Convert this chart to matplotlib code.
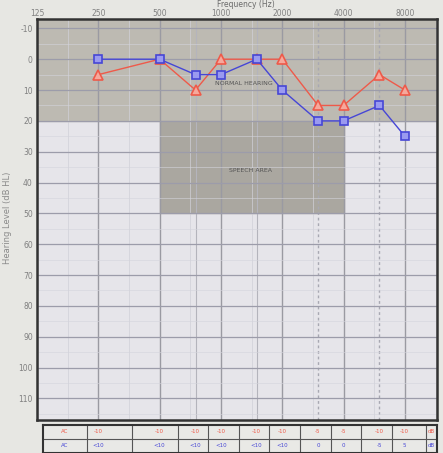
import matplotlib
matplotlib.use("Agg")
import matplotlib.pyplot as plt
import numpy as np

# audiogram thresholds (dB HL)
freqs = [250, 500, 750, 1000, 1500, 2000, 3000, 4000, 6000, 8000]
right_ear = [5, 0, 10, 0, 0, 0, 15, 15, 5, 10]
left_ear = [0, 0, 5, 5, 0, 10, 20, 20, 15, 25]

octave_ticks = [125, 250, 500, 1000, 2000, 4000, 8000]
db_ticks = [-10, 0, 10, 20, 30, 40, 50, 60, 70, 80, 90, 100, 110]

# table rows under the chart
row_labels = ["AC", "AC"]
right_row = ["-10", "-10", "-10", "-10", "-10", "-10", "-5", "-5", "-10", "-10"]
left_row = ["<10", "<10", "<10", "<10", "<10", "<10", "0", "0", "-5", "5"]

red = "#ee5a4a"
blue = "#4646d6"
bg = "#e7e7e3"

fig = plt.figure(figsize=(4.43, 4.53), dpi=100)
fig.patch.set_facecolor(bg)

ax = fig.add_axes([0.0835, 0.0728, 0.903, 0.885])
ax.set_xscale("log", base=2)
ax.set_xlim(125, 11500)
ax.set_ylim(117, -13)
ax.set_facecolor("#e6e5ea")

# normal hearing and speech area shading
ax.axhspan(-13, 20, color="#bdbab2", zorder=0)
ax.fill_between([500, 4000], 20, 50, color="#aaa7a0", zorder=0.5)

# grid
for f in octave_ticks:
    ax.axvline(f, color="#9a9aa2", lw=1.0, zorder=1)
for f in [750, 1500]:
    ax.axvline(f, color="#b4b4bc", lw=0.8, zorder=1)
for f in [3000, 6000]:
    ax.axvline(f, color="#a8a8b2", lw=1.0, ls=(0, (2, 2)), zorder=1)
for f in [177, 354, 707, 1414, 2828, 5657, 11314]:
    ax.axvline(f, color="#d0d0d8", lw=0.5, zorder=1)
for d in db_ticks:
    ax.axhline(d, color="#9c9caa", lw=0.9, zorder=1)
for d in np.arange(-5, 116, 10):
    ax.axhline(d, color="#d4d4dc", lw=0.4, zorder=1)

ax.text(1300, 8, "NORMAL HEARING", fontsize=4.5, color="#555555",
        ha="center", va="center", zorder=2)
ax.text(1400, 36, "SPEECH AREA", fontsize=4.5, color="#555555",
        ha="center", va="center", zorder=2)

ax.plot(freqs, right_ear, color=red, lw=1.0, marker="^", ms=6.5,
        mfc="#f6a89c", mec=red, mew=1.2, zorder=3)
ax.plot(freqs, left_ear, color=blue, lw=1.0, marker="s", ms=5.5,
        mfc="#9a9af0", mec=blue, mew=1.2, zorder=4)

ax.set_xticks(octave_ticks)
ax.set_xticklabels([str(f) for f in octave_ticks])
ax.xaxis.tick_top()
ax.set_yticks(db_ticks)
ax.set_yticklabels([str(d) for d in db_ticks])
ax.tick_params(axis="both", length=0, labelsize=5.5, colors="#808080", pad=3)
ax.tick_params(axis="x", pad=1)
ax.minorticks_off()
for s in ax.spines.values():
    s.set_color("#333333")
    s.set_linewidth(1.8)

fig.text(0.555, 1.0, "Frequency (Hz)", fontsize=5.5, color="#6a6a6a",
         ha="center", va="top")
fig.text(0.018, 0.52, "Hearing Level (dB HL)", fontsize=6, color="#8a8a8a",
         rotation=90, ha="center", va="center")

# threshold table
tax = fig.add_axes([0.097, 0.0, 0.889, 0.062])
tax.set_xscale("log", base=2)
tax.set_xlim(134, 11500)
tax.set_ylim(0, 2)
tax.set_facecolor("#e9e9e6")
tax.set_xticks([])
tax.set_yticks([])
tax.minorticks_off()
edges = [220, 366, 616, 866, 1225, 1732, 2450, 3464, 4900, 6928, 10200]
for e in edges:
    tax.axvline(e, color="#555555", lw=0.8)
tax.axhline(1, color="#555555", lw=0.8)
for s in tax.spines.values():
    s.set_color("#333333")
    s.set_linewidth(1.5)
tax.text(172, 1.5, row_labels[0], fontsize=4, color=red, ha="center", va="center")
tax.text(172, 0.5, row_labels[1], fontsize=4, color=blue, ha="center", va="center")
for f, r, l in zip(freqs, right_row, left_row):
    tax.text(f, 1.5, r, fontsize=4, color=red, ha="center", va="center")
    tax.text(f, 0.5, l, fontsize=4, color=blue, ha="center", va="center")
tax.text(10800, 1.5, "dB", fontsize=4, color=red, ha="center", va="center")
tax.text(10800, 0.5, "dB", fontsize=4, color=blue, ha="center", va="center")

fig.savefig("out.png", dpi=100, facecolor=bg)
